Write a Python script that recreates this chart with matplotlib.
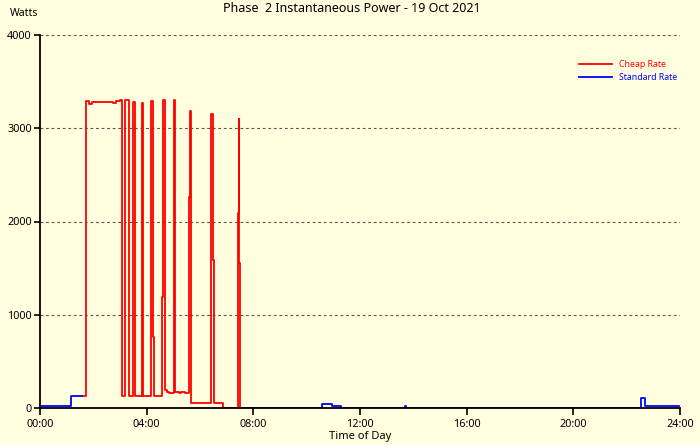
import matplotlib
matplotlib.use("Agg")
import matplotlib.pyplot as plt
import numpy as np

plt.rcParams['font.family'] = ['Noto Sans', 'DejaVu Sans']

# ---- data (hours of day, watts; step values hold until next time) ----
cheap_t = [1.56, 1.74, 1.85, 1.95, 2.2, 2.5, 2.75, 2.85, 3.0, 3.075, 3.19, 3.32, 3.47, 3.58,
           3.81, 3.88, 4.16, 4.18, 4.24, 4.26, 4.59, 4.61, 4.67, 4.75, 4.85, 5.01, 5.05,
           5.08, 5.2, 5.3, 5.45, 5.59, 5.62, 5.68, 6.43, 6.48, 6.51, 6.86, 7.44, 7.45,
           7.48, 7.5, 7.52]
cheap_w = [125, 3290, 3265, 3285, 3280, 3285, 3270, 3290, 3300, 125, 3300, 125, 3280, 125,
           3270, 125, 1730, 3295, 765, 125, 1195, 3303, 190, 175, 165, 3303, 2250,
           170, 160, 175, 165, 2265, 3180, 57, 3150, 1587, 57, 0, 2090, 3099,
           1555, 0, 0]

std1_t = [0.0, 1.16, 1.56]
std1_w = [20, 129, 129]
std2_t = [7.52, 10.56, 10.94, 11.29, 13.67, 13.71, 22.53, 22.69, 23.96]
std2_w = [0, 40, 25, 0, 20, 0, 104, 25, 25]

x_ticks = [0, 4, 8, 12, 16, 20, 24]
x_labels = ["00:00", "04:00", "08:00", "12:00", "16:00", "20:00", "24:00"]
y_ticks = [0, 1000, 2000, 3000, 4000]

title = "Phase  2 Instantaneous Power - 19 Oct 2021"
bg = "#FFFFE0"

fig = plt.figure(figsize=(7, 4.45), dpi=100, facecolor=bg)
ax = fig.add_axes([40/700, 1-408/445, 640/700, 373/445])
ax.set_facecolor(bg)

ax.step(cheap_t, cheap_w, where='post', color='#FF0000', lw=1.3, label='Cheap Rate', zorder=3)
ax.step(std1_t, std1_w, where='post', color='#0000FF', lw=1.3, label='Standard Rate', zorder=3)
ax.step(std2_t, std2_w, where='post', color='#0000FF', lw=1.3, zorder=3)

ax.set_xlim(0, 24)
ax.set_ylim(0, 4000)
ax.set_xticks(x_ticks)
ax.set_xticklabels(x_labels)
ax.set_yticks(y_ticks)
ax.tick_params(axis='both', labelsize=7.8, length=5, width=1.2, colors='black', pad=3)
ax.tick_params(axis='y', length=4, pad=2)

for y in y_ticks[1:]:
    ax.axhline(y, color='#555555', lw=0.8, ls=(0, (2.5, 2.5)), zorder=1)

for s in ['top', 'right']:
    ax.spines[s].set_visible(False)
for s in ['left', 'bottom']:
    ax.spines[s].set_linewidth(1.3)
    ax.spines[s].set_zorder(4)

ax.set_xlabel("Time of Day", fontsize=8, labelpad=1)
fig.text(10/700, 1-14/445, "Watts", fontsize=7.5, va='center', ha='left')
fig.text(352/700, 1-8/445, title, fontsize=9, va='center', ha='center')

leg = ax.legend(loc='upper left', bbox_to_anchor=(0.83, 0.955), frameon=False,
                fontsize=6.3, handlelength=3.8, labelspacing=0.5)
for txt, c in zip(leg.get_texts(), ['#FF0000', '#0000FF']):
    txt.set_color(c)

fig.savefig("out.png", dpi=100, facecolor=bg)
